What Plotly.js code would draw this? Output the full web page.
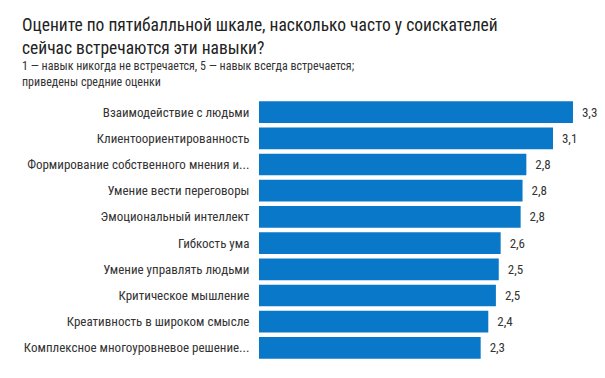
<!DOCTYPE html>
<html>
<head>
<meta charset="utf-8">
<script src="https://cdn.plot.ly/plotly-3.0.1.min.js"></script>
<style>html,body{margin:0;padding:0;background:#fff;}#chart{width:605px;height:378px;}</style>
</head>
<body>
<div id="chart"></div>
<script>
var skills = [
  "Взаимодействие с людьми",
  "Клиентоориентированность",
  "Формирование собственного мнения и...",
  "Умение вести переговоры",
  "Эмоциональный интеллект",
  "Гибкость ума",
  "Умение управлять людьми",
  "Критическое мышление",
  "Креативность в широком смысле",
  "Комплексное многоуровневое решение..."
];
var scores = [3.3, 3.09, 2.81, 2.77, 2.75, 2.54, 2.52, 2.49, 2.41, 2.33];
var scoreLabels = ["3,3", "3,1", "2,8", "2,8", "2,8", "2,6", "2,5", "2,5", "2,4", "2,3"];

var FONT = '"Liberation Sans Narrow", "Roboto Condensed", Roboto, sans-serif';

var trace = {
  type: 'bar',
  orientation: 'h',
  y: skills,
  x: scores,
  text: scoreLabels,
  texttemplate: '\u00a0\u00a0%{text}',
  textposition: 'outside',
  cliponaxis: false,
  textfont: {family: FONT, size: 13, color: '#333'},
  marker: {color: '#0a78c8'},
  hoverinfo: 'none'
};

var layout = {
  width: 605, height: 378,
  margin: {l: 259, r: 13, t: 99, b: 17},
  paper_bgcolor: '#fff', plot_bgcolor: '#fff',
  bargap: 0.17,
  showlegend: false,
  font: {family: FONT, color: '#333'},
  annotations: [{
    text: 'Оцените по пятибалльной шкале, насколько часто у соискателей<br>сейчас встречаются эти навыки?',
    xref: 'paper', yref: 'paper', x: -239/333, y: 1 + 86/262,
    xanchor: 'left', yanchor: 'top', align: 'left', showarrow: false,
    font: {family: FONT, size: 17.5, color: '#222'}
  }, {
    text: '1 — навык никогда не встречается, 5 — навык всегда встречается;<br>приведены средние оценки',
    xref: 'paper', yref: 'paper', x: -239/333, y: 1 + 42/262,
    xanchor: 'left', yanchor: 'top', align: 'left', showarrow: false,
    font: {family: FONT, size: 12, color: '#333'}
  }],
  xaxis: {range: [0, 3.5], visible: false, fixedrange: true},
  yaxis: {
    autorange: 'reversed', showgrid: false, zeroline: false, showline: false,
    ticks: 'outside', ticklen: 6, tickcolor: 'rgba(0,0,0,0)',
    tickfont: {family: FONT, size: 13, color: '#333'}
  }
};

Plotly.newPlot('chart', [trace], layout, {displayModeBar: false, staticPlot: true});
</script>
</body>
</html>
